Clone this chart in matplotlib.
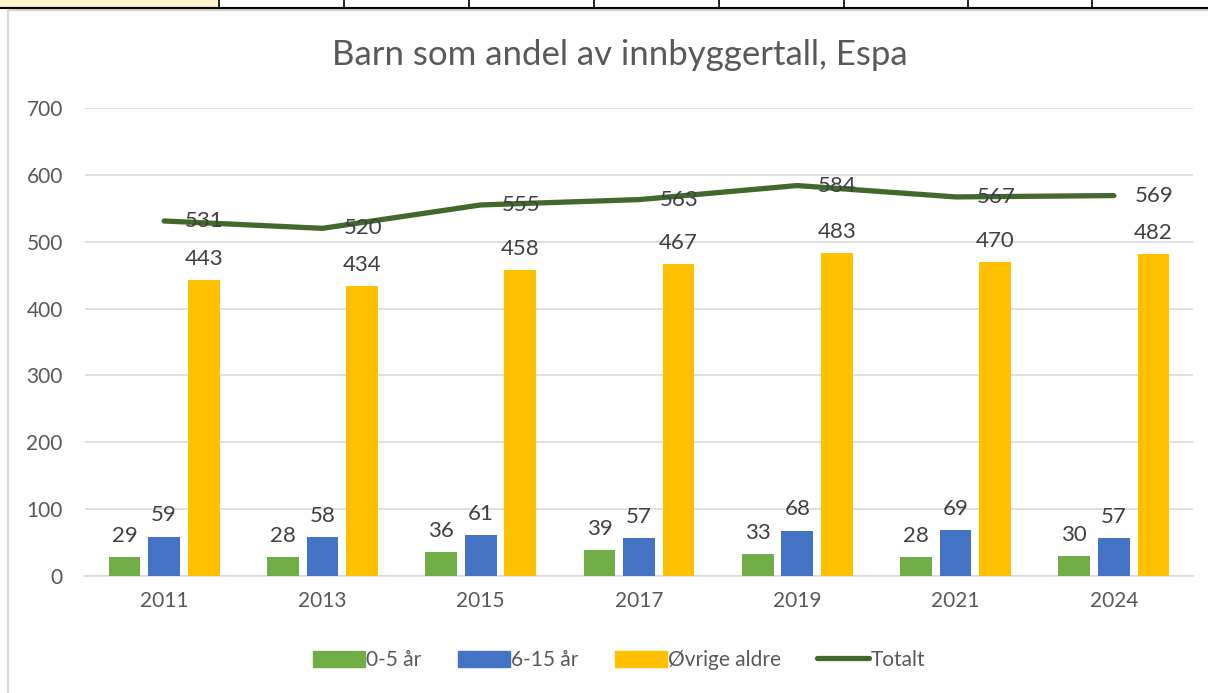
import matplotlib
matplotlib.use("Agg")
import matplotlib.pyplot as plt
from matplotlib.patches import Rectangle
from matplotlib.lines import Line2D
import numpy as np

years = ["2011", "2013", "2015", "2017", "2019", "2021", "2024"]
age_0_5 = [29, 28, 36, 39, 33, 28, 30]
age_6_15 = [59, 58, 61, 57, 68, 69, 57]
other_ages = [443, 434, 458, 467, 483, 470, 482]
total = [531, 520, 555, 563, 584, 567, 569]

plt.rcParams['font.family'] = ['Lato', 'DejaVu Sans']
txt = '#595959'

fig = plt.figure(figsize=(12.08, 6.93), dpi=100)
ax = fig.add_axes([85 / 1208, 1 - 576 / 693, (1193 - 85) / 1208, (576 - 108) / 693])

x = np.arange(len(years))
w = 0.2
step = 0.25
series = [(age_0_5, '#70AD47', '0-5 år'),
          (age_6_15, '#4472C4', '6-15 år'),
          (other_ages, '#FFC000', 'Øvrige aldre')]
for i, (vals, col, lab) in enumerate(series):
    pos = x + (i - 1) * step
    ax.bar(pos, vals, width=w, color=col, label=lab, zorder=3)
    for p, v in zip(pos, vals):
        ax.annotate(str(v), (p, v), xytext=(0, 8), textcoords='offset points',
                    ha='center', va='bottom', fontsize=16, color='#404040')

ax.plot(x, total, color='#43682B', lw=3.8, solid_capstyle='round', label='Totalt', zorder=4)
for p, v in zip(x, total):
    ax.annotate(str(v), (p, v), xytext=(29, 0), textcoords='offset points',
                ha='center', va='center', fontsize=16, color='#404040', zorder=5)

ax.set_xlim(-0.5, len(years) - 0.5)
ax.set_ylim(0, 700)
ax.set_yticks(range(0, 701, 100))
ax.set_xticks(x)
ax.set_xticklabels(years)
ax.tick_params(axis='both', length=0, labelsize=15, colors=txt)
ax.tick_params(axis='x', pad=11)
ax.tick_params(axis='y', pad=16)
ax.grid(axis='y', color='#D9D9D9', lw=1.2, zorder=0)
for s in ['top', 'right', 'left']:
    ax.spines[s].set_visible(False)
ax.spines['bottom'].set_color('#D9D9D9')
ax.spines['bottom'].set_linewidth(1.2)

fig.text(620 / 1208, 1 - 55 / 693, 'Barn som andel av innbyggertall, Espa',
         ha='center', va='center', fontsize=25, color=txt)

handles = [Rectangle((0, 0), 1, 1, color=c) for _, c, _ in series]
handles.append(Line2D([0], [0], color='#43682B', lw=3.8, solid_capstyle='round'))
labels = [s[2] for s in series] + ['Totalt']
fig.legend(handles, labels, loc='center', bbox_to_anchor=(619 / 1208, 1 - 660 / 693),
           ncol=4, frameon=False, fontsize=15, labelcolor=txt, handlelength=2.5,
           handleheight=0.8, handletextpad=0.05, columnspacing=1.75)

# spreadsheet strip on top
fig.patches.append(Rectangle((0, 1 - 8 / 693), 218 / 1208, 8 / 693,
                             transform=fig.transFigure, facecolor='#FFF2CC',
                             edgecolor='none'))
fig.add_artist(Line2D([0, 1], [1 - 8 / 693] * 2, color='black', lw=1.5,
                      transform=fig.transFigure))
for bx in [219, 344, 469, 594, 719, 844, 968, 1092]:
    fig.add_artist(Line2D([bx / 1208] * 2, [1 - 8 / 693, 1], color='black', lw=1.2,
                          transform=fig.transFigure))
fig.add_artist(Line2D([8 / 1208, 1], [1 - 10 / 693] * 2, color='#D0D0D0', lw=1.5,
                      transform=fig.transFigure))
fig.add_artist(Line2D([8 / 1208] * 2, [0, 1 - 10 / 693], color='#D9D9D9', lw=1.5,
                      transform=fig.transFigure))

fig.savefig('out.png', dpi=100)
